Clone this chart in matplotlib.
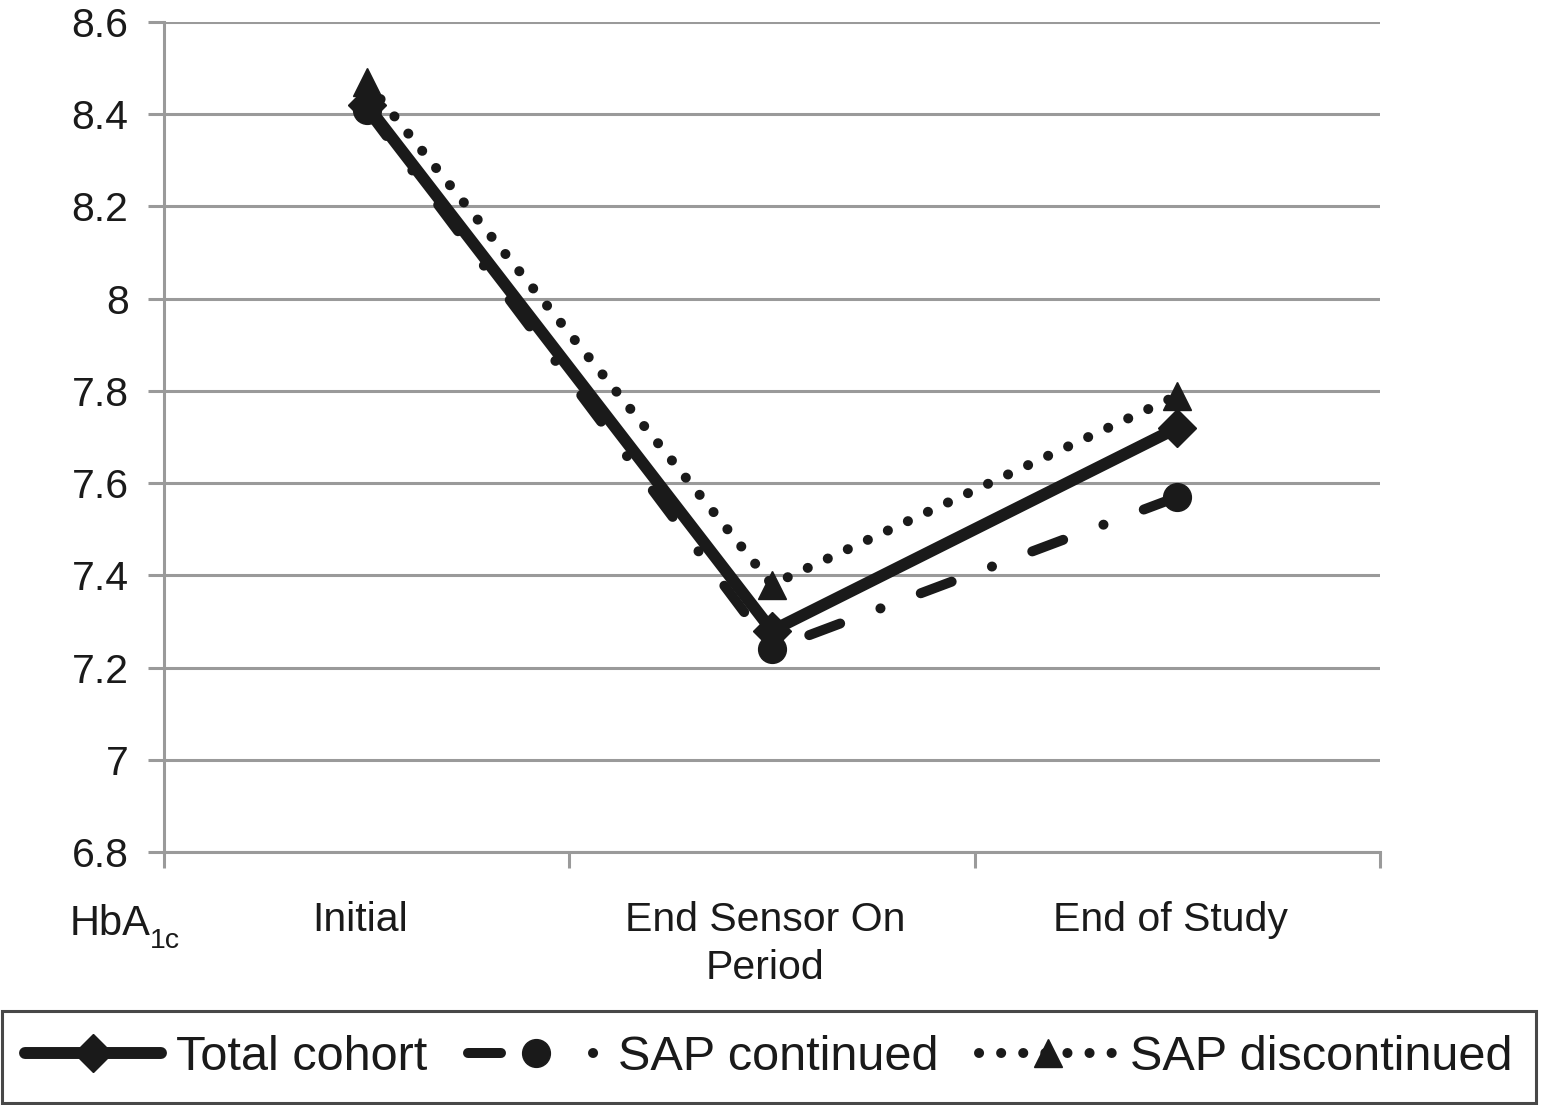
import numpy as np
import matplotlib
matplotlib.use('Agg')
import matplotlib.pyplot as plt
from matplotlib.transforms import ScaledTranslation

plt.rcParams['font.family'] = ['Liberation Sans', 'DejaVu Sans']

#%% data

categories = ['Initial', 'End Sensor On\nPeriod', 'End of Study']
total_cohort = [8.42, 7.28, 7.72]
sap_continued = [8.41, 7.24, 7.57]
sap_discontinued = [8.47, 7.38, 7.79]
series_labels = ['Total cohort', 'SAP continued', 'SAP discontinued']
yticks = [6.8, 7.0, 7.2, 7.4, 7.6, 7.8, 8.0, 8.2, 8.4, 8.6]
ytick_labels = ['6.8', '7', '7.2', '7.4', '7.6', '7.8', '8', '8.2', '8.4', '8.6']

#%% plot

ink = '#1a1a1a'
grey = '#9a9a9a'

fig = plt.figure(figsize=(15.41, 11.05), dpi=100, facecolor='white')
ax = fig.add_axes([164/1541., 253/1105., (1380-164)/1541., 830/1105.])

x = np.arange(len(categories)) + 0.5

l1, = ax.plot(x, total_cohort, color=ink, lw=8.6, marker='D', ms=19,
              solid_capstyle='round', solid_joinstyle='miter', clip_on=False, zorder=3)
l2, = ax.plot(x, sap_continued, color=ink, lw=7.2, marker='o', ms=20,
              dashes=(3.3, 4.3, 0.01, 4.3), dash_capstyle='round', clip_on=False, zorder=4)
l3, = ax.plot(x, sap_discontinued, color=ink, lw=7.2, marker='^', ms=20,
              dashes=(0.01, 2.2), dash_capstyle='round', clip_on=False, zorder=5)

ax.set_xlim(0, len(categories))
ax.set_ylim(6.8, 8.6)
ax.set_yticks(yticks)
ax.set_yticklabels(ytick_labels)
ax.set_xticks(np.arange(len(categories) + 1))
ax.set_xticklabels([])
ax.set_xticks(x, minor=True)
ax.set_xticklabels(categories, minor=True, linespacing=1.35)

ax.yaxis.grid(True, color=grey, lw=2.2)
ax.set_axisbelow(True)
for s in ['top', 'right']:
    ax.spines[s].set_visible(False)
for s in ['left', 'bottom']:
    ax.spines[s].set_color(grey)
    ax.spines[s].set_linewidth(2.2)

ax.tick_params(axis='y', length=11.5, width=2.2, color=grey, labelsize=29.5,
               labelcolor=ink, pad=14)
ax.tick_params(axis='x', which='major', length=11.5, width=2.2, color=grey)
ax.tick_params(axis='x', which='minor', length=0, labelsize=29.5,
               labelcolor=ink, pad=35)

# category labels sit a little left of the centre in the original
shift = ScaledTranslation(-7/100., 0, fig.dpi_scale_trans)
for lab in ax.get_xticklabels(minor=True):
    lab.set_transform(lab.get_transform() + shift)

fig.text(70/1541., (1105-935)/1105., 'HbA', fontsize=30, color=ink,
         ha='left', va='baseline')
fig.text(150/1541., (1105-948)/1105., '1c', fontsize=20.5, color=ink,
         ha='left', va='baseline')

leg = fig.legend([l1, l2, l3], series_labels, loc='lower left',
                 bbox_to_anchor=(2/1541., 2/1105., 1534/1541., 93/1105.),
                 mode='expand', ncol=3, fontsize=35, frameon=True, fancybox=False,
                 edgecolor=ink, handlelength=2.8, handletextpad=0.3,
                 borderpad=0.48, borderaxespad=0, numpoints=1)
leg.get_frame().set_linewidth(2.2)
for t in leg.get_texts():
    t.set_color(ink)
# legend sample of the dash-dot line: dash, marker, dot
leg.get_lines()[1].set_dashes((3.3, 9.2, 0.01, 10))

plt.savefig('out.png', dpi=100, facecolor='white')
